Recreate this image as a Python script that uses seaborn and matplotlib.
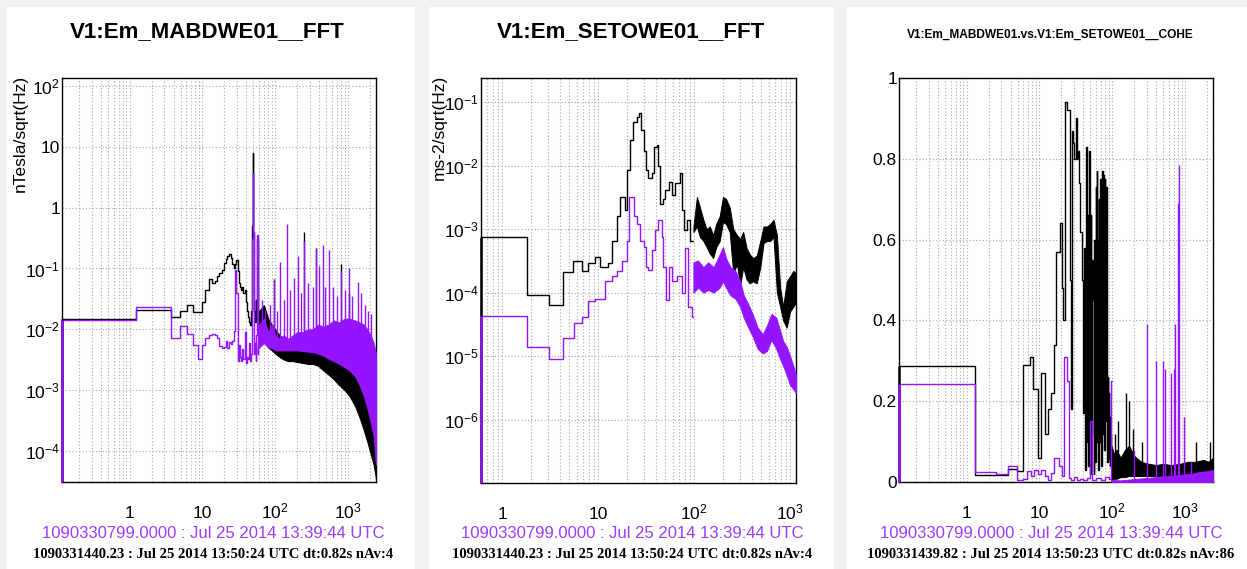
import numpy as np
import pandas as pd
import matplotlib
matplotlib.use("Agg")
import matplotlib.pyplot as plt
from matplotlib.patches import Rectangle
from matplotlib.ticker import (LogLocator, FixedLocator, FuncFormatter,
                               MultipleLocator, NullFormatter)
import seaborn as sns

# ---------------- V1:Em_MABDWE01 FFT (nTesla/sqrt(Hz)) ----------------
mab_edges = [0.117, 1.22, 3.66, 4.88, 6.10, 7.32, 8.54, 9.76, 10.98, 12.20,
             13.42, 14.64, 15.86, 17.08, 18.30, 19.52, 20.74, 21.96, 23.18,
             24.40, 25.62, 26.84, 28.06, 29.28, 30.50, 31.72, 32.94, 34.16,
             35.38, 36.60, 37.82, 39.04, 40.26, 41.48, 42.70, 43.92, 45.14,
             46.36, 47.58, 48.80, 50.02, 51.24, 52.46, 53.68, 54.90, 56.12,
             57.34, 58.56, 59.78]
mab_ref_low = [0.015, 0.021, 0.0158, 0.020, 0.025, 0.019, 0.019, 0.028, 0.045,
               0.066, 0.058, 0.063, 0.075, 0.085, 0.095, 0.125, 0.145, 0.16,
               0.17, 0.15, 0.12, 0.10, 0.12, 0.14, 0.09, 0.058, 0.05, 0.045,
               0.05, 0.04, 0.045, 0.035, 0.028, 0.02, 0.016, 0.013, 0.012,
               0.02, 0.5, 7.8, 0.4, 0.02, 0.013, 0.03, 0.018, 0.3, 0.025, 0.02]
mab_cur_low = [0.0145, 0.023, 0.0072, 0.0115, 0.0085, 0.0055, 0.0033, 0.0055,
               0.0072, 0.0080, 0.0085, 0.0080, 0.0072, 0.0053, 0.0050, 0.0052,
               0.0065, 0.0050, 0.0062, 0.0058, 0.0065, 0.0095, 0.095, 0.04,
               0.003, 0.0055, 0.0035, 0.003, 0.0048, 0.0033, 0.009, 0.004,
               0.0028, 0.0035, 0.0032, 0.006, 0.003, 0.004, 0.3, 3.6, 0.4,
               0.004, 0.006, 0.003, 0.008, 0.35, 0.004, 0.005]
mab_band_f = [59.8, 70, 80, 90, 100, 115, 130, 150, 175, 200, 240, 280, 330,
              390, 460, 540, 640, 760, 900, 1050, 1250, 1450, 1650, 1850,
              2050, 2250, 2430]
mab_cur_hi = [0.012, 0.015, 0.009, 0.012, 0.008, 0.007, 0.008, 0.007, 0.008,
              0.009, 0.009, 0.010, 0.010, 0.012, 0.011, 0.012, 0.014, 0.013,
              0.015, 0.015, 0.014, 0.013, 0.012, 0.010, 0.008, 0.006, 0.004]
mab_cur_lo = [0.005, 0.006, 0.005, 0.005, 0.0045, 0.0045, 0.0045, 0.0045,
              0.0045, 0.0045, 0.0044, 0.0043, 0.0042, 0.004, 0.0037, 0.0033,
              0.003, 0.0027, 0.0024, 0.0021, 0.0017, 0.0012, 0.0008, 0.0005,
              0.0003, 0.00018, 0.00006]
mab_ref_hi = [0.02, 0.025, 0.015, 0.012, 0.010, 0.008, 0.007, 0.0065, 0.006,
              0.0055, 0.005, 0.005, 0.0048, 0.0046, 0.0044, 0.0042, 0.004,
              0.0037, 0.0034, 0.003, 0.0025, 0.0019, 0.0013, 0.0009, 0.0006,
              0.0004, 0.00025]
mab_ref_lo = [0.008, 0.007, 0.005, 0.0045, 0.004, 0.0035, 0.0032, 0.003,
              0.003, 0.0029, 0.0028, 0.0027, 0.0027, 0.0025, 0.0021, 0.0018,
              0.0015, 0.0012, 0.001, 0.0008, 0.00055, 0.00035, 0.00022,
              0.00014, 0.00009, 0.00006, 0.000035]
mab_cur_peak_f = [65, 72, 84, 95, 105, 117, 132, 146, 160, 180, 205, 228, 250,
                  285, 330, 365, 395, 450, 490, 550, 620, 700, 790, 900, 1040,
                  1150, 1360, 1500, 1700, 1900, 2100]
mab_cur_peak_v = [0.03, 0.02, 0.025, 0.066, 0.02, 0.13, 0.03, 0.53, 0.045,
                  0.07, 0.16, 0.04, 0.28, 0.058, 0.05, 0.22, 0.11, 0.24, 0.05,
                  0.2, 0.05, 0.035, 0.09, 0.045, 0.1, 0.035, 0.06, 0.04, 0.025,
                  0.02, 0.018]
mab_ref_peak_f = [95, 250, 365, 790, 1040]
mab_ref_peak_v = [0.066, 0.4, 0.22, 0.12, 0.04]

# ---------------- V1:Em_SETOWE01 FFT (ms-2/sqrt(Hz)) ----------------
set_ref_edges = [0.60, 1.83, 3.05, 4.28, 5.5, 6.75, 7.92, 9.3, 10.5, 12.8,
                 13.9, 15.6, 16.9, 19.1, 20.2, 21.6, 23.3, 25.3, 26.7, 28.0,
                 29.7, 31.6, 33.4, 36.2, 38.3, 40.8, 42.5, 44.2, 47.2, 49.9,
                 54.1, 58.5, 63.4, 71.4, 74.4, 78.7, 83.9, 90.8, 98.4]
set_ref_low = [7.5e-4, 9.3e-5, 6.3e-5, 2.1e-4, 3.2e-4, 2.2e-4, 2.9e-4, 3.6e-4,
               2.5e-4, 2.9e-4, 6.6e-4, 1.6e-3, 3.2e-3, 2e-3, 8.5e-3, 2.5e-2,
               4.9e-2, 5.8e-2, 6.7e-2, 3.6e-2, 1.7e-2, 8.5e-3, 6.3e-3, 7.6e-3,
               2e-2, 2.1e-2, 1e-2, 2.5e-3, 3e-3, 4.1e-3, 5.6e-3, 3.4e-3,
               5.3e-3, 7.6e-3, 2e-3, 9.6e-4, 1.4e-3, 6.6e-4]
set_cur_edges = [0.60, 1.83, 3.05, 4.28, 5.53, 6.75, 7.92, 9.3, 11.8, 13.9,
                 15.9, 17.6, 19.9, 21.2, 23.7, 25.7, 27.4, 29.7, 31.6, 33.4,
                 36.2, 39.3, 42.5, 46.0, 47.9, 51.0, 54.1, 58.5, 66.0, 74.4,
                 80.5, 87.2, 94.5, 98.4]
set_cur_low = [4.2e-5, 1.4e-5, 9.1e-6, 1.9e-5, 3.3e-5, 4.1e-5, 7.4e-5, 7.8e-5,
               1.5e-4, 1.8e-4, 2.2e-4, 3.2e-4, 6.6e-4, 3.2e-3, 1.6e-3, 1.2e-3,
               6.6e-4, 5.2e-4, 2.5e-4, 2.3e-4, 4.7e-4, 9.6e-4, 1.4e-3, 7.5e-4,
               2.5e-4, 7.5e-5, 2.5e-4, 1.5e-4, 1.8e-4, 1e-4, 5e-4, 6e-5, 4.1e-5]
set_ref_band_f = [98.4, 107, 115, 125, 135, 146, 158, 170, 185, 200, 215, 235,
                  256, 280, 302, 325, 353, 380, 410, 450, 490, 530, 574, 620,
                  673, 730, 789, 850, 924, 1000, 1083, 1155]
set_ref_hi = [1.1e-3, 3.2e-3, 2.2e-3, 1.4e-3, 1.0e-3, 1.1e-3, 8e-4, 1.2e-3,
              1.6e-3, 3.2e-3, 3.0e-3, 2.2e-3, 1e-3, 8e-4, 7e-4, 9e-4, 5e-4,
              4e-4, 3.5e-4, 3.8e-4, 6.5e-4, 1.1e-3, 1.1e-3, 1.2e-3, 1.4e-3,
              8e-4, 1.2e-4, 6e-5, 1.5e-4, 1.8e-4, 2.2e-4, 2e-4]
set_ref_lo = [9e-4, 1.1e-3, 7.5e-4, 6.5e-4, 5.2e-4, 4.1e-4, 3.5e-4, 5.2e-4,
              6.5e-4, 1.3e-3, 1.2e-3, 9e-4, 2e-4, 2.8e-4, 1.3e-4, 2.5e-4,
              1.6e-4, 1.4e-4, 1.5e-4, 1.4e-4, 2.5e-4, 6e-4, 6.5e-4, 6.5e-4,
              7.5e-4, 1e-4, 6e-5, 3.6e-5, 2.8e-5, 5e-5, 6e-5, 7e-5]
set_cur_band_f = [98.4, 110, 125, 140, 160, 185, 200, 215, 240, 270, 302, 330,
                  360, 410, 460, 520, 574, 640, 720, 789, 850, 924, 1000, 1083,
                  1155]
set_cur_hi = [3e-4, 3.2e-4, 2.5e-4, 3e-4, 2.5e-4, 4e-4, 5.2e-4, 3.5e-4,
              2.5e-4, 2.2e-4, 1.5e-4, 9e-5, 7e-5, 4.5e-5, 2.8e-5, 2.2e-5,
              3e-5, 4.6e-5, 4e-5, 2.5e-5, 1.7e-5, 1.4e-5, 1e-5, 7e-6, 5e-6]
set_cur_lo = [1e-4, 1.2e-4, 1e-4, 1.1e-4, 1e-4, 1.2e-4, 1.5e-4, 1.2e-4, 9e-5,
              8e-5, 6e-5, 4e-5, 3e-5, 2e-5, 1.3e-5, 1.1e-5, 1.2e-5, 1.8e-5,
              1.3e-5, 9e-6, 7e-6, 5e-6, 3.5e-6, 3e-6, 2.6e-6]

# ---------------- coherence MABDWE01 vs SETOWE01 ----------------
coh_ref_edges = [0.117, 1.29, 3.7, 4.83, 5.95, 7.35, 8.17, 9.57, 10.6, 11.8,
                 13.1, 14.6, 15.7, 17.1, 19.0, 20.3, 21.1, 22.5, 24.0, 26.1,
                 27.0, 28.0, 29.0, 30.2, 31.4, 32.6, 33.8, 35.0, 36.5, 38.0,
                 39.5, 41.0, 42.2, 43.4, 44.6, 45.8, 47.0, 48.2, 49.4, 50.6,
                 51.8, 53.0, 54.2, 55.4, 56.6, 57.8, 59.0, 60.2, 61.4, 62.6,
                 63.8, 65.0, 66.2, 67.4, 68.6, 69.8, 71.0, 72.2, 73.4, 74.6,
                 75.8, 77.0, 78.2, 79.4, 80.6, 81.8, 83.0, 84.2, 85.4, 86.6,
                 87.8, 89.0, 90.2, 91.4, 92.6, 93.8, 95.0, 96.2, 97.4]
coh_ref_low = [0.287, 0.018, 0.032, 0.026, 0.29, 0.31, 0.23, 0.06, 0.27, 0.12,
               0.18, 0.22, 0.34,
               0.57, 0.64, 0.48, 0.40, 0.94, 0.92, 0.50, 0.18, 0.87, 0.84,
               0.80, 0.90, 0.80, 0.82, 0.74, 0.62, 0.50, 0.17, 0.58, 0.03,
               0.83, 0.10, 0.66, 0.04, 0.82, 0.02, 0.66, 0.12, 0.55, 0.45,
               0.02, 0.60, 0.05, 0.73, 0.10, 0.77, 0.60, 0.03, 0.70, 0.55,
               0.10, 0.75, 0.56, 0.04, 0.66, 0.77, 0.12, 0.76, 0.74, 0.08,
               0.75, 0.60, 0.15, 0.73, 0.62, 0.05, 0.26, 0.10, 0.22, 0.06,
               0.16, 0.04, 0.12, 0.05, 0.09]
coh_cur_edges = [0.117, 1.29, 2.56, 3.7, 4.83, 5.95, 6.8, 7.6, 8.5, 9.5, 10.6,
                 11.8, 13.1, 14.6, 15.7, 17.1, 18.6, 20.3, 22.0, 24.0, 25.5,
                 27.0, 30.0, 33.0, 36.0, 40.0, 45.0, 50.0, 53.0, 60.0, 70.0,
                 80.0, 90.0, 96.0, 99.0]
coh_cur_low = [0.242, 0.025, 0.02, 0.04, 0.005, 0.008, 0.028, 0.015, 0.03,
               0.02, 0.03, 0.015, 0.005, 0.022, 0.06, 0.06, 0.04, 0.015, 0.31,
               0.25, 0.01, 0.005, 0.012, 0.004, 0.008, 0.004, 0.01, 0.15,
               0.006, 0.01, 0.006, 0.012, 0.008, 0.25]
coh_ref_band_f = [97.4, 105, 115, 130, 150, 170, 200, 250, 320, 400, 500, 650,
                  850, 1100, 1400, 1800, 2100, 2430]
coh_ref_hi = [0.09, 0.07, 0.08, 0.06, 0.08, 0.09, 0.065, 0.05, 0.045, 0.042,
              0.045, 0.042, 0.045, 0.05, 0.05, 0.055, 0.05, 0.06]
coh_ref_lo = [0.0, 0.008, 0.008, 0.012, 0.012, 0.015, 0.015, 0.015, 0.015,
              0.015, 0.015, 0.015, 0.016, 0.016, 0.016, 0.017, 0.018, 0.018]
coh_ref_peak_f = [110, 120, 155, 172, 190, 260, 1440, 2200]
coh_ref_peak_v = [0.12, 0.15, 0.22, 0.2, 0.13, 0.1, 0.1, 0.1]
coh_cur_band_f = [99, 130, 170, 220, 300, 400, 520, 700, 900, 1200, 1500, 1900,
                  2430]
coh_cur_hi = [0.005, 0.004, 0.006, 0.008, 0.01, 0.012, 0.014, 0.016, 0.018,
              0.02, 0.024, 0.026, 0.03]
coh_cur_peak_f = [200, 296, 398, 492, 530, 653, 703, 734, 812, 817, 967, 1200]
coh_cur_peak_v = [0.08, 0.39, 0.30, 0.30, 0.28, 0.27, 0.28, 0.39, 0.69, 0.785,
                  0.16, 0.05]

titles = ["V1:Em_MABDWE01__FFT", "V1:Em_SETOWE01__FFT",
          "V1:Em_MABDWE01.vs.V1:Em_SETOWE01__COHE"]
y_titles = ["nTesla/sqrt(Hz)", "ms-2/sqrt(Hz)"]
ref_time = "1090330799.0000 : Jul 25 2014 13:39:44 UTC"
cur_info = ["1090331440.23 : Jul 25 2014 13:50:24 UTC dt:0.82s nAv:4",
            "1090331440.23 : Jul 25 2014 13:50:24 UTC dt:0.82s nAv:4",
            "1090331439.82 : Jul 25 2014 13:50:23 UTC dt:0.82s nAv:86"]

# ---------------- styling ----------------
W, H = 1247, 569
INK = "#000000"
VIOLET = "#9414ff"
VIOLET_TEXT = "#9c3cff"
GRID = "#a8a8a8"

sns.set_theme(style="white")
plt.rcParams["font.family"] = ["Liberation Sans", "DejaVu Sans"]
plt.rcParams["mathtext.fontset"] = "custom"
plt.rcParams["mathtext.rm"] = "Liberation Sans"
plt.rcParams["mathtext.it"] = "Liberation Sans:italic"
plt.rcParams["mathtext.bf"] = "Liberation Sans:bold"
plt.rcParams["axes.unicode_minus"] = True

fig = plt.figure(figsize=(W / 100, H / 100), dpi=100)
fig.patch.set_facecolor("#f2f2f2")
for x0, x1 in [(7, 415), (429, 834), (847, W)]:
    fig.add_artist(Rectangle((x0 / W, 0), (x1 - x0) / W, (H - 7) / H,
                             transform=fig.transFigure, facecolor="white",
                             edgecolor="none", zorder=0))


def pixel_axes(left, right, top, bottom):
    return fig.add_axes([left / W, 1 - bottom / H,
                         (right - left) / W, (bottom - top) / H])


def log_label(v, pos=None):
    e = int(round(np.log10(v)))
    if e == 0:
        return "1"
    if e == 1:
        return "10"
    return rf"$10^{{{e}}}$"


def frame(ax, xlim, ylim, ylog=True):
    ax.set_xscale("log")
    if ylog:
        ax.set_yscale("log")
    ax.set_xlim(*xlim)
    ax.set_ylim(*ylim)
    ax.set_facecolor("white")
    ax.xaxis.set_major_locator(FixedLocator([1, 10, 100, 1000]))
    ax.xaxis.set_major_formatter(NullFormatter())
    ax.xaxis.set_minor_locator(LogLocator(base=10, subs=np.arange(2, 10), numticks=60))
    ax.xaxis.set_minor_formatter(NullFormatter())
    if ylog:
        ax.yaxis.set_major_locator(LogLocator(base=10, numticks=30))
        ax.yaxis.set_major_formatter(FuncFormatter(log_label))
        ax.yaxis.set_minor_locator(LogLocator(base=10, subs=np.arange(2, 10), numticks=60))
        ax.yaxis.set_minor_formatter(NullFormatter())
    ax.tick_params(which="both", direction="in", top=False, right=False,
                   color=INK, width=0.9, labelsize=12.5, labelcolor=INK, pad=1.5)
    ax.tick_params(axis="x", which="both", length=5.5)
    ax.tick_params(axis="y", which="major", length=6)
    ax.tick_params(axis="y", which="minor", length=3)
    for s in ax.spines.values():
        s.set_color(INK)
        s.set_linewidth(1.0)
    ax.grid(which="major", axis="both", color=GRID, linestyle=(0, (1, 2)), linewidth=0.8)
    ax.grid(which="minor", axis="x", color=GRID, linestyle=(0, (1, 2)), linewidth=0.8)
    ax.set_axisbelow(True)
    for t in [1, 10, 100, 1000]:
        ax.annotate(log_label(t), xy=(t, 0), xycoords=("data", "axes fraction"),
                    xytext=(0, -26), textcoords="offset points",
                    ha="center", va="baseline", fontsize=12.5, color=INK)


def draw_steps(ax, edges, vals, color, floor, lw=1.0):
    data = pd.DataFrame({"freq": edges, "value": list(vals) + [vals[-1]]})
    sns.lineplot(data=data, x="freq", y="value", ax=ax, color=color,
                 linewidth=lw, drawstyle="steps-post", estimator=None,
                 sort=False, zorder=3)
    ax.vlines(edges[0], floor, vals[0], color=color, linewidth=lw * 1.8,
              zorder=4, clip_on=False)


def draw_band(ax, f, lo, hi, color):
    ax.fill_between(f, lo, hi, color=color, linewidth=0.7, zorder=3)


def draw_peaks(ax, f, v, band_f, band_top, color, logy=True, lw=1.0):
    if logy:
        base = np.exp(np.interp(np.log(f), np.log(band_f), np.log(band_top)))
    else:
        base = np.interp(np.log(f), np.log(band_f), band_top)
    ax.vlines(f, base, v, color=color, linewidth=lw, zorder=3)


# ---------------- panel 1 ----------------
ax1 = pixel_axes(62, 376, 78, 482)
lim1 = ((0.117, 2430), (3.1e-5, 135))
frame(ax1, *lim1)
draw_steps(ax1, mab_edges, mab_ref_low, INK, lim1[1][0])
draw_band(ax1, mab_band_f, mab_ref_lo, mab_ref_hi, INK)
draw_peaks(ax1, mab_ref_peak_f, mab_ref_peak_v, mab_band_f, mab_ref_hi, INK)
draw_steps(ax1, mab_edges, mab_cur_low, VIOLET, lim1[1][0])
draw_band(ax1, mab_band_f, mab_cur_lo, mab_cur_hi, VIOLET)
draw_peaks(ax1, mab_cur_peak_f, mab_cur_peak_v, mab_band_f, mab_cur_hi, VIOLET)
ax1.set_xlim(*lim1[0]); ax1.set_ylim(*lim1[1])

# ---------------- panel 2 ----------------
ax2 = pixel_axes(481, 796, 78, 483)
lim2 = ((0.60, 1155), (1e-7, 0.24))
frame(ax2, *lim2)
draw_steps(ax2, set_ref_edges, set_ref_low, INK, lim2[1][0])
draw_band(ax2, set_ref_band_f, set_ref_lo, set_ref_hi, INK)
draw_steps(ax2, set_cur_edges, set_cur_low, VIOLET, lim2[1][0])
draw_band(ax2, set_cur_band_f, set_cur_lo, set_cur_hi, VIOLET)
ax2.set_xlim(*lim2[0]); ax2.set_ylim(*lim2[1])
ax2.yaxis.set_major_locator(FixedLocator([1e-6, 1e-5, 1e-4, 1e-3, 1e-2, 1e-1]))

# ---------------- panel 3 ----------------
ax3 = pixel_axes(899, 1213, 78, 482)
lim3 = ((0.117, 2430), (0.0, 1.0))
frame(ax3, *lim3, ylog=False)
ax3.yaxis.set_major_locator(FixedLocator([0, 0.2, 0.4, 0.6, 0.8, 1.0]))
ax3.yaxis.set_major_formatter(FuncFormatter(lambda v, p: f"{v:g}"))
ax3.yaxis.set_minor_locator(MultipleLocator(0.05))
draw_steps(ax3, coh_ref_edges, coh_ref_low, INK, 0.0)
draw_band(ax3, coh_ref_band_f, coh_ref_lo, coh_ref_hi, INK)
draw_peaks(ax3, coh_ref_peak_f, coh_ref_peak_v, coh_ref_band_f, coh_ref_hi, INK, logy=False)
draw_steps(ax3, coh_cur_edges, coh_cur_low, VIOLET, 0.0)
draw_band(ax3, coh_cur_band_f, [0.0] * len(coh_cur_band_f), coh_cur_hi, VIOLET)
draw_peaks(ax3, coh_cur_peak_f, coh_cur_peak_v, coh_cur_band_f, coh_cur_hi, VIOLET, logy=False)
ax3.set_xlim(*lim3[0]); ax3.set_ylim(*lim3[1])

for ax in (ax1, ax2, ax3):
    ax.set_xlabel("")
    ax.set_ylabel("")

# ---------------- text ----------------
title_pos = [(207, 32, 16), (631, 32, 16), (1050, 35, 8.6)]
for (x, y, size), txt in zip(title_pos, titles):
    fig.text(x / W, 1 - y / H, txt, ha="center", va="center",
             fontsize=size, fontweight="bold", color=INK)

for x, txt in zip([20, 439], y_titles):
    fig.text(x / W, 1 - 75 / H, txt, rotation=90, ha="center", va="top",
             fontsize=12.5, color=INK)

for x, info in zip([213, 632, 1051], cur_info):
    fig.text(x / W, 1 - 538 / H, ref_time, ha="center", va="baseline",
             fontsize=12.0, color=VIOLET_TEXT)
    fig.text(x / W, 1 - 558 / H, info, ha="center", va="baseline",
             fontsize=10.5, fontweight="bold", color=INK,
             family=["Liberation Serif", "DejaVu Serif"])

fig.savefig("out.png", dpi=100, facecolor=fig.get_facecolor())
